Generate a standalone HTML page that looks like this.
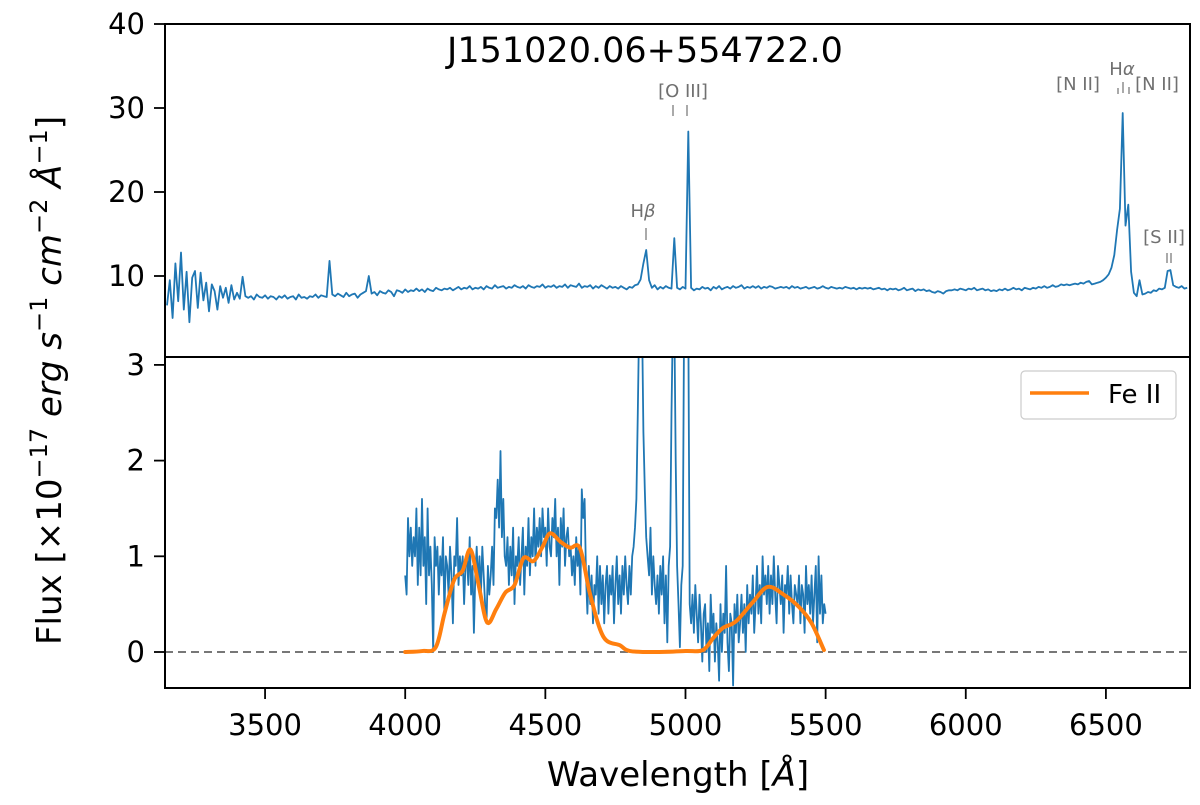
<!DOCTYPE html>
<html><head><meta charset="utf-8"><style>
body{margin:0;background:#fff;}
svg{font-family:"DejaVu Sans","Liberation Sans",sans-serif;}
</style></head><body>
<svg id="chart" width="1200" height="800" viewBox="0 0 1200 800">
<defs>
<clipPath id="clipTop"><rect x="165" y="24" width="1025" height="333"/></clipPath>
<clipPath id="clipBot"><rect x="165" y="357" width="1025" height="331"/></clipPath>
</defs>
<rect x="0" y="0" width="1200" height="800" fill="#fff"/>
<g id="topLines" clip-path="url(#clipTop)"></g>
<g id="botLines" clip-path="url(#clipBot)"></g>
<g id="axes"></g>
<text x="645" y="62" font-size="35" text-anchor="middle" fill="#000">J151020.06+554722.0</text>
<g fill="#707070" font-size="18" text-anchor="middle">
<text x="643" y="217">H<tspan font-style="italic">β</tspan></text>
<line x1="646" y1="228" x2="646" y2="240" stroke="#707070" stroke-width="1.2"/>
<text x="683" y="97">[O III]</text>
<line x1="673" y1="105" x2="673" y2="116" stroke="#707070" stroke-width="1.2"/>
<line x1="687" y1="105" x2="687" y2="116" stroke="#707070" stroke-width="1.2"/>
<text x="1078" y="90">[N II]</text>
<text x="1122" y="75">H<tspan font-style="italic">α</tspan></text>
<line x1="1118" y1="88" x2="1118" y2="94" stroke="#707070" stroke-width="1.2"/>
<line x1="1123" y1="82" x2="1123" y2="93" stroke="#707070" stroke-width="1.2"/>
<line x1="1129" y1="87" x2="1129" y2="94" stroke="#707070" stroke-width="1.2"/>
<text x="1157" y="90">[N II]</text>
<text x="1164" y="243">[S II]</text>
<line x1="1167" y1="253" x2="1167" y2="263" stroke="#707070" stroke-width="1.2"/>
<line x1="1171" y1="253" x2="1171" y2="263" stroke="#707070" stroke-width="1.2"/>
</g>
<g>
<rect x="1021" y="371" width="155" height="48" rx="4" fill="#fff" stroke="#ccc" stroke-width="1.2"/>
<line x1="1030" y1="393" x2="1089" y2="393" stroke="#ff7f0e" stroke-width="3.5"/>
<text x="1108" y="403" font-size="26" fill="#000">Fe II</text>
</g>
<text x="678" y="786" font-size="34" text-anchor="middle">Wavelength [<tspan font-style="italic">Å</tspan>]</text>
<text transform="translate(61,645) rotate(-90)" font-size="34" text-anchor="start">Flux [×10<tspan dy="-14" font-size="24">−17</tspan><tspan dy="14" font-style="italic"> erg s</tspan><tspan dy="-14" font-size="24">−1</tspan><tspan dy="14" font-style="italic"> cm</tspan><tspan dy="-14" font-size="24">−2</tspan><tspan dy="14" font-style="italic"> Å</tspan><tspan dy="-14" font-size="24">−1</tspan><tspan dy="14">]</tspan></text>
</svg>
<script>
const topStart = 3150, topStep = 10;
const topFlux = [
6.5,9.5,5.0,11.5,7.0,12.8,6.0,10.5,4.5,9.8,
10.6,6.2,10.4,7.1,9.2,5.8,9.0,8.2,6.0,8.8,
7.4,8.6,6.8,8.9,7.2,8.0,7.3,9.9,7.6,7.4,
7.6,7.2,7.8,7.5,7.4,7.7,7.3,7.6,7.5,7.2,
7.6,7.4,7.7,7.3,7.5,7.6,7.2,7.8,7.4,7.5,
7.3,7.6,7.5,7.8,7.4,7.7,7.6,7.5,11.8,7.8,
7.6,7.9,7.7,7.5,8.0,7.6,7.8,7.9,7.4,7.8,
8.0,8.2,10.0,7.9,8.1,7.7,8.2,8.0,7.9,8.3,
8.1,7.6,8.3,8.2,8.0,8.4,8.1,8.3,8.2,8.5,
8.2,8.4,8.1,8.5,8.3,8.2,8.6,8.4,8.3,8.5,
8.4,8.6,8.3,8.5,8.7,8.4,8.6,8.5,8.8,8.4,
8.6,8.5,8.7,8.4,8.8,8.6,8.5,8.9,8.6,8.7,
8.8,8.5,8.7,8.6,8.9,8.7,8.6,8.8,8.5,8.9,
8.7,8.6,8.8,8.7,9.0,8.6,8.8,8.7,8.9,8.6,
8.8,8.7,9.0,8.6,8.9,8.8,8.7,9.1,8.6,8.8,
8.7,8.9,8.5,8.8,8.6,8.9,8.7,8.5,8.8,8.6,
8.7,8.5,8.8,8.6,8.4,8.7,8.6,8.9,9.0,9.6,
11.5,13.1,9.5,8.6,8.9,8.4,8.7,8.5,8.8,8.6,
8.5,14.5,8.6,8.4,8.7,8.5,27.2,8.6,8.3,8.5,
8.4,8.7,8.5,8.6,8.3,8.7,8.5,8.8,8.4,8.6,
8.7,8.5,8.8,8.6,8.7,8.9,8.5,8.7,8.6,8.8,
8.6,8.8,8.5,8.7,8.6,8.8,8.7,8.5,8.6,8.7,
8.6,8.7,8.5,8.8,8.6,8.7,8.5,8.6,8.7,8.5,
8.6,8.7,8.5,8.6,8.8,8.6,8.5,8.7,8.6,8.5,
8.6,8.5,8.7,8.6,8.5,8.6,8.4,8.6,8.5,8.6,
8.5,8.6,8.4,8.5,8.6,8.4,8.5,8.3,8.5,8.4,
8.5,8.3,8.4,8.6,8.3,8.4,8.5,8.2,8.4,8.3,
8.4,8.2,8.3,8.1,8.0,8.2,8.1,7.9,8.2,8.3,
8.3,8.4,8.3,8.5,8.4,8.3,8.5,8.4,8.6,8.3,
8.4,8.5,8.3,8.4,8.2,8.3,8.2,8.4,8.3,8.5,
8.3,8.4,8.6,8.4,8.5,8.3,8.6,8.5,8.4,8.6,
8.5,8.7,8.6,8.8,8.6,8.7,8.9,8.7,8.8,9.0,
8.9,9.0,8.9,9.0,9.1,9.0,9.2,9.1,9.3,9.4,
9.0,9.1,9.2,9.3,9.5,9.8,10.2,11.0,12.5,15.5,
18.0,29.4,16.0,18.5,10.5,8.0,7.6,9.5,7.8,7.9,
8.1,8.0,8.3,8.2,8.5,8.4,8.6,10.6,10.7,8.9,
8.7,8.6,8.8,8.5,8.6];
const resStart = 4000, resStep = 5;
const resFlux = [
0.8,0.6,1.4,1.0,1.3,0.9,1.2,1.0,1.5,0.7,1.3,0.8,1.6,0.9,1.2,0.5,1.5,0.8,1.1,0.7,
0.0,1.2,0.9,1.1,0.6,1.0,0.8,1.2,0.4,1.0,0.9,0.6,1.1,0.8,0.3,1.0,0.9,1.4,0.7,1.0,
0.8,1.0,0.5,0.9,1.0,0.7,1.2,0.6,0.9,0.2,0.8,1.1,0.7,1.0,0.6,1.1,0.8,0.5,0.3,0.9,
0.6,0.8,1.1,0.7,1.5,1.4,1.8,1.3,2.1,1.2,1.6,1.0,0.9,1.2,0.7,1.1,0.8,1.3,0.5,1.0,
0.9,1.2,0.7,1.0,1.3,0.6,1.1,0.9,1.4,0.8,1.2,1.0,1.5,0.9,1.3,1.1,1.4,1.0,1.5,1.2,
1.3,0.9,1.5,1.1,1.0,1.4,1.2,1.6,1.0,1.3,0.7,1.4,1.1,1.5,0.9,1.2,1.3,1.0,1.1,0.8,
1.0,0.7,1.2,0.9,1.1,0.6,1.7,1.4,1.6,0.8,0.4,0.9,0.5,0.8,0.3,0.7,0.6,1.0,0.4,0.9,
0.5,0.8,0.3,0.7,0.9,0.4,0.8,0.6,0.9,0.3,0.7,1.0,0.5,0.8,0.4,0.9,0.6,1.0,0.7,0.5,
0.9,0.6,1.0,1.1,1.3,1.6,2.5,3.5,3.5,3.5,2.3,1.7,1.2,1.0,0.8,1.3,0.6,1.0,0.7,0.5,
0.8,0.4,0.9,0.6,1.0,0.3,0.8,0.1,0.9,1.1,2.5,3.5,3.5,2.0,0.9,0.5,0.05,0.7,0.9,3.5,
3.5,3.5,3.5,0.5,0.3,0.6,0.2,0.7,0.4,0.1,0.6,0.3,-0.1,0.4,0.5,0.0,0.3,-0.2,0.6,0.2,
0.4,-0.1,0.3,0.1,-0.3,0.5,0.0,0.4,0.2,0.9,0.1,-0.2,0.4,0.3,-0.35,0.5,0.2,0.6,0.1,0.3,
0.6,0.2,0.5,0.0,0.7,0.3,0.6,0.4,0.8,0.2,0.5,0.9,0.4,0.7,0.3,1.0,0.6,0.8,0.5,0.9,
0.4,0.8,0.5,1.0,0.6,0.3,0.9,0.7,0.5,0.8,0.2,0.7,0.6,0.9,0.4,0.8,0.5,0.3,0.7,0.6,
0.5,0.8,0.3,0.7,0.6,0.2,0.9,0.5,0.7,0.4,0.8,0.3,0.6,0.9,0.1,1.0,0.4,0.8,0.3,0.5,
0.4];
const feWave = [4000,4060,4109,4140,4174,4205,4233,4262,4292,4325,4357,4390,4422,4458,4490,4517,4555,4588,4624,4660,4707,4766,4802,4900,5000,5062,5100,5133,5180,5240,5293,5350,5405,5450,5494];
const feFlux = [0.0,0.01,0.05,0.4,0.75,0.85,1.07,0.7,0.31,0.45,0.62,0.7,0.98,0.95,1.1,1.24,1.15,1.09,1.08,0.6,0.16,0.07,0.01,0.0,0.01,0.02,0.15,0.25,0.32,0.52,0.68,0.6,0.47,0.3,0.02];
const xTicks = [3500,4000,4500,5000,5500,6000,6500];
const yTopTicks = [10,20,30,40];
const yBotTicks = [0,1,2,3];

const L=165,R=1190,XMIN=3143,XMAX=6800;
const X=w=>L+(w-XMIN)*(R-L)/(XMAX-XMIN);
const YT=v=>360-v*8.4;
const YB=v=>652-v*95.7;
const NS='http://www.w3.org/2000/svg';
function mk(t,attrs,parent){const e=document.createElementNS(NS,t);for(const k in attrs)e.setAttribute(k,attrs[k]);parent.appendChild(e);return e;}
const topG=document.getElementById('topLines'),botG=document.getElementById('botLines'),ax=document.getElementById('axes');

let d='';topFlux.forEach((v,i)=>{d+=(i?'L':'M')+X(topStart+i*topStep).toFixed(1)+','+YT(v).toFixed(1);});
const p1=mk('path',{d:d,fill:'none',stroke:'#1f77b4','stroke-width':1.8,'stroke-linejoin':'round'},topG);



const zl=mk('line',{x1:L,x2:R,y1:YB(0),y2:YB(0),stroke:'#777','stroke-width':2,'stroke-dasharray':'8,5'},botG);



d='';resFlux.forEach((v,i)=>{d+=(i?'L':'M')+X(resStart+i*resStep).toFixed(1)+','+YB(v).toFixed(1);});
const p2=mk('path',{d:d,fill:'none',stroke:'#1f77b4','stroke-width':1.8,'stroke-linejoin':'round'},botG);



const pts=feWave.map((w,i)=>[X(w),YB(feFlux[i])]);
d='M'+pts[0][0]+','+pts[0][1];
for(let i=0;i<pts.length-1;i++){const p0=pts[Math.max(0,i-1)],a=pts[i],b=pts[i+1],p3=pts[Math.min(pts.length-1,i+2)];
d+='C'+(a[0]+(b[0]-p0[0])/6)+','+(a[1]+(b[1]-p0[1])/6)+' '+(b[0]-(p3[0]-a[0])/6)+','+(b[1]-(p3[1]-a[1])/6)+' '+b[0]+','+b[1];}
const p3=mk('path',{d:d,fill:'none',stroke:'#ff7f0e','stroke-width':4,'stroke-linejoin':'round','stroke-linecap':'round'},botG);



const f1=mk('rect',{x:L,y:24,width:R-L,height:333,fill:'none',stroke:'#000','stroke-width':2},ax);


const f2=mk('rect',{x:L,y:357,width:R-L,height:331,fill:'none',stroke:'#000','stroke-width':2},ax);



xTicks.forEach(t=>{const x=X(t);
const tl=mk('line',{x1:x,x2:x,y1:688,y2:699,stroke:'#000','stroke-width':1.8},ax);


const tx=mk('text',{x:x,y:735,'font-size':29,'text-anchor':'middle'},ax);tx.textContent=t;

});
yTopTicks.forEach(t=>{const y=YT(t);
const tl=mk('line',{x1:L-11,x2:L,y1:y,y2:y,stroke:'#000','stroke-width':1.8},ax);


const tx=mk('text',{x:L-20,y:y+10,'font-size':29,'text-anchor':'end'},ax);tx.textContent=t;

});
yBotTicks.forEach(t=>{const y=YB(t);
const tl=mk('line',{x1:L-11,x2:L,y1:y,y2:y,stroke:'#000','stroke-width':1.8},ax);


const tx=mk('text',{x:L-20,y:y+10,'font-size':29,'text-anchor':'end'},ax);tx.textContent=t;

});
</script>
</body></html>
